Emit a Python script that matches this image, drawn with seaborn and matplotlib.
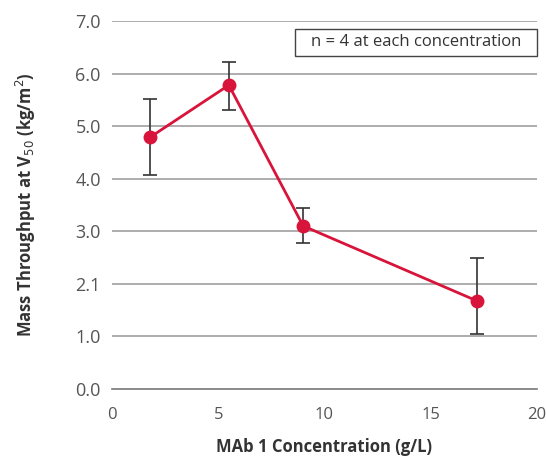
import matplotlib
matplotlib.use("Agg")
import matplotlib.pyplot as plt
import seaborn as sns
import pandas as pd
from matplotlib.ticker import MultipleLocator
from matplotlib.patches import Rectangle

# MAb 1 concentration (g/L) and mass throughput at V50 (kg/m2)
concentration = [1.8, 5.5, 9.0, 17.2]
throughput = [4.79, 5.78, 3.10, 1.67]
err_low = [4.07, 5.30, 2.78, 1.05]
err_high = [5.51, 6.22, 3.44, 2.49]

y_ticks = [0, 1, 2, 3, 4, 5, 6, 7]
y_tick_labels = ["0.0", "1.0", "2.1", "3.0", "4.0", "5.0", "6.0", "7.0"]
x_ticks = [0, 5, 10, 15, 20]

sns.set_theme(style="white")
plt.rcParams["font.family"] = ["Open Sans", "DejaVu Sans"]

df = pd.DataFrame({"conc": concentration, "mt": throughput})

fig = plt.figure(figsize=(5.46, 4.57), dpi=100)
ax = fig.add_axes([0.205, 0.149, 0.7785, 0.805])

red = "#d9143a"
grid_c = "#a0a0a0"

for y in y_ticks[1:]:
    ax.axhline(y, color=grid_c, lw=1.2, zorder=0)

yerr = [[m - lo for m, lo in zip(throughput, err_low)],
        [hi - m for m, hi in zip(throughput, err_high)]]
ax.errorbar(concentration, throughput, yerr=yerr, fmt="none",
            ecolor="#333333", elinewidth=1.2, capsize=5, capthick=1.2, zorder=2)

sns.lineplot(data=df, x="conc", y="mt", ax=ax, color=red, lw=2,
             marker="o", markersize=10, markeredgewidth=0, zorder=3)

ax.set_xlim(0, 20)
ax.set_ylim(0, 7)
ax.set_xticks(x_ticks)
ax.xaxis.set_minor_locator(MultipleLocator(1))
ax.set_yticks(y_ticks)
ax.set_yticklabels(y_tick_labels)

for s in ["top", "right", "left"]:
    ax.spines[s].set_visible(False)
ax.spines["bottom"].set_color("#777777")
ax.spines["bottom"].set_linewidth(1.2)

ax.tick_params(axis="x", which="both", direction="in", length=6, width=1,
               color="#777777", labelsize=12, labelcolor="#555555", pad=13)
ax.tick_params(axis="y", length=0, labelsize=13, labelcolor="#555555", pad=8)

ax.set_xlabel("MAb 1 Concentration (g/L)", fontsize=12, fontweight="bold",
              color="#333333", labelpad=11)
ax.set_ylabel("Mass Throughput at V$_{50}$ (kg/m$^2$)", fontsize=12,
              fontweight="bold", color="#333333", labelpad=27)

# annotation box in the upper right corner
ax.add_patch(Rectangle((0.4306, 0.905), 0.5694, 0.073, transform=ax.transAxes,
                       fc="white", ec="#444444", lw=1, zorder=4, clip_on=False))
ax.text(0.715, 0.942, "n = 4 at each concentration", transform=ax.transAxes,
        ha="center", va="center", fontsize=12, color="#333333", zorder=5)

ax.grid(False)
fig.savefig("out.png", dpi=100)
